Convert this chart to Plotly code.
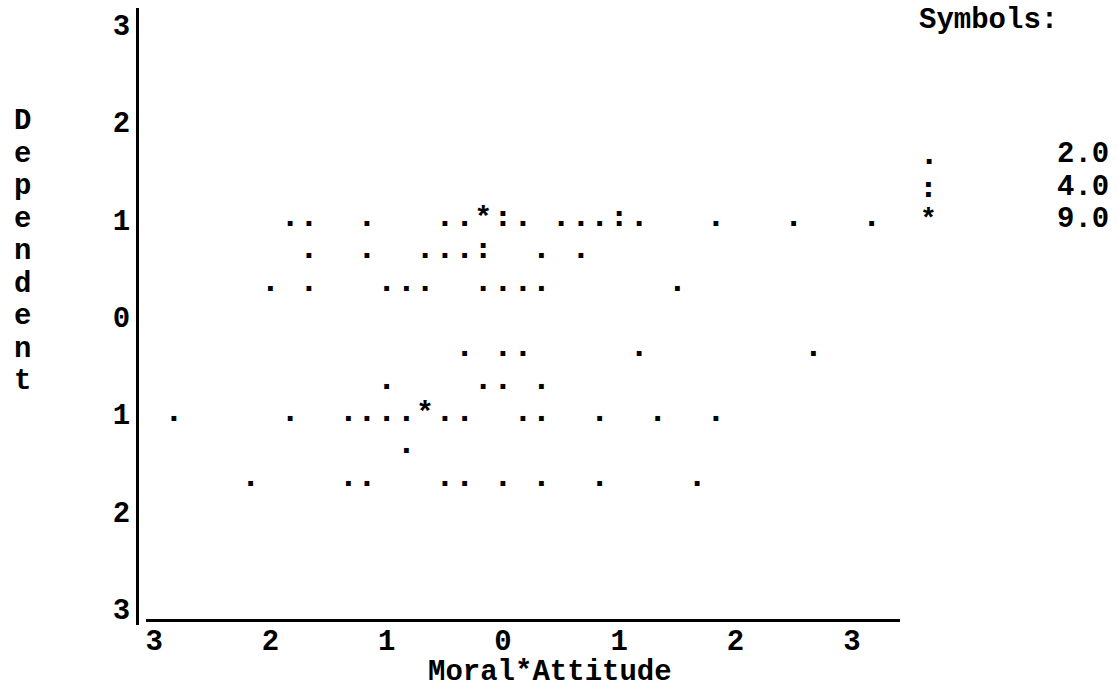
import plotly.graph_objects as go

# ---- data read from the character scatterplot ----
# '.' symbols (frequency class 2.0)
dot_x = [-1.83, -1.67, -1.17, -0.5, -0.33, 0.17, 0.5, 0.67, 0.83, 1.17, 1.83, 2.5, 3.17,
         -1.67, -1.17, -0.67, -0.5, -0.33, 0.33, 0.67,
         -2.0, -1.67, -1.0, -0.83, -0.67, -0.17, 0.0, 0.17, 0.33, 1.5,
         -0.33, 0.0, 0.17, 1.17, 2.67,
         -1.0, -0.17, 0.0, 0.33,
         -2.83, -1.83, -1.33, -1.17, -1.0, -0.83, -0.5, -0.33, 0.17, 0.33, 0.83, 1.33, 1.83,
         -0.83,
         -2.17, -1.33, -1.17, -0.5, -0.33, 0.0, 0.33, 0.83, 1.67]
dot_y = [1.0] * 13 + [0.67] * 7 + [0.33] * 10 + [-0.33] * 5 + [-0.67] * 4 + \
        [-1.0] * 13 + [-1.33] * 1 + [-1.67] * 9
# ':' symbols (frequency class 4.0)
colon_x = [0.0, 1.0, -0.17]
colon_y = [1.0, 1.0, 0.67]
# '*' symbols (frequency class 9.0)
star_x = [-0.17, -0.67]
star_y = [1.0, -1.0]

tick_vals = [-3, -2, -1, 0, 1, 2, 3]
x_tick_text = ["3", "2", "1", "0", "1", "2", "3"]
y_tick_text = ["3", "2", "1", "0", "1", "2", "3"]

legend_title = "Symbols:"
legend_chars = [".", ":", "*"]
legend_values = ["2.0", "4.0", "9.0"]
legend_rows = [1.67, 1.33, 1.0]

x_title = "Moral*Attitude"
y_title = "Dependent"

# ---- styling ----
FONT = "Liberation Mono"
black = "black"
font = dict(family=FONT, size=29, color=black, weight="bold")
dot_font = dict(family="DejaVu Sans", size=27, color=black, weight="bold")
star_font = dict(family=FONT, size=30, color=black, weight="bold")
legend_star_font = dict(family=FONT, size=28, color=black, weight="bold")

Y_RANGE = [-3.165, 3.17]


def y_paper(v):
    return (v - Y_RANGE[0]) / (Y_RANGE[1] - Y_RANGE[0])


fig = go.Figure()
for xs, ys, ch, name, f in [(dot_x, dot_y, ".", "2.0", dot_font),
                            (colon_x, colon_y, ":", "4.0", dot_font),
                            (star_x, star_y, "*", "9.0", star_font)]:
    fig.add_trace(go.Scatter(x=xs, y=ys, mode="text", text=[ch] * len(xs),
                             textposition="middle center", textfont=f,
                             name=name, showlegend=False, cliponaxis=False,
                             hoverinfo="x+y"))

annotations = []
annotations.append(dict(x=1.0236, y=0.979, xref="paper", yref="paper", text=legend_title,
                        showarrow=False, xanchor="left", yanchor="middle", font=font,
                        borderpad=0))
legend_char_fonts = [dot_font, dot_font, legend_star_font]
for ch, v, r, f in zip(legend_chars, legend_values, legend_rows, legend_char_fonts):
    annotations.append(dict(x=1.038, y=y_paper(r), xref="paper", yref="paper", text=ch,
                            showarrow=False, xanchor="center", yanchor="middle",
                            font=f, borderpad=0))
    annotations.append(dict(x=1.275, y=y_paper(r), xref="paper", yref="paper", text=v,
                            showarrow=False, xanchor="right", yanchor="middle", font=font,
                            borderpad=0))
annotations.append(dict(x=0.541, y=-0.0767, xref="paper", yref="paper", text=x_title,
                        showarrow=False, xanchor="center", yanchor="middle", font=font,
                        borderpad=0))
for i, ch in enumerate(y_title):
    annotations.append(dict(x=-0.1507, y=y_paper(2 - i / 3), xref="paper", yref="paper",
                            text=ch, showarrow=False, xanchor="center", yanchor="middle",
                            font=font, borderpad=0))

fig.update_layout(
    width=1118, height=688,
    margin=dict(l=137, r=218, t=8, b=63, pad=0),
    paper_bgcolor="white", plot_bgcolor="white",
    showlegend=False,
    annotations=annotations,
    xaxis=dict(domain=[0.0118, 1], range=[-3.07, 3.414], anchor="free", position=0.0081,
               showline=True, linewidth=3, linecolor=black, showgrid=False, zeroline=False,
               ticks="", tickvals=tick_vals, ticktext=x_tick_text, tickfont=font,
               ticklabelstandoff=-7, fixedrange=True),
    yaxis=dict(domain=[0, 1], range=Y_RANGE, anchor="free", position=0,
               showline=True, linewidth=3, linecolor=black, showgrid=False, zeroline=False,
               ticks="", tickvals=tick_vals, ticktext=y_tick_text, tickfont=font,
               fixedrange=True),
)

fig.write_html("out.html", config={"displayModeBar": False})
